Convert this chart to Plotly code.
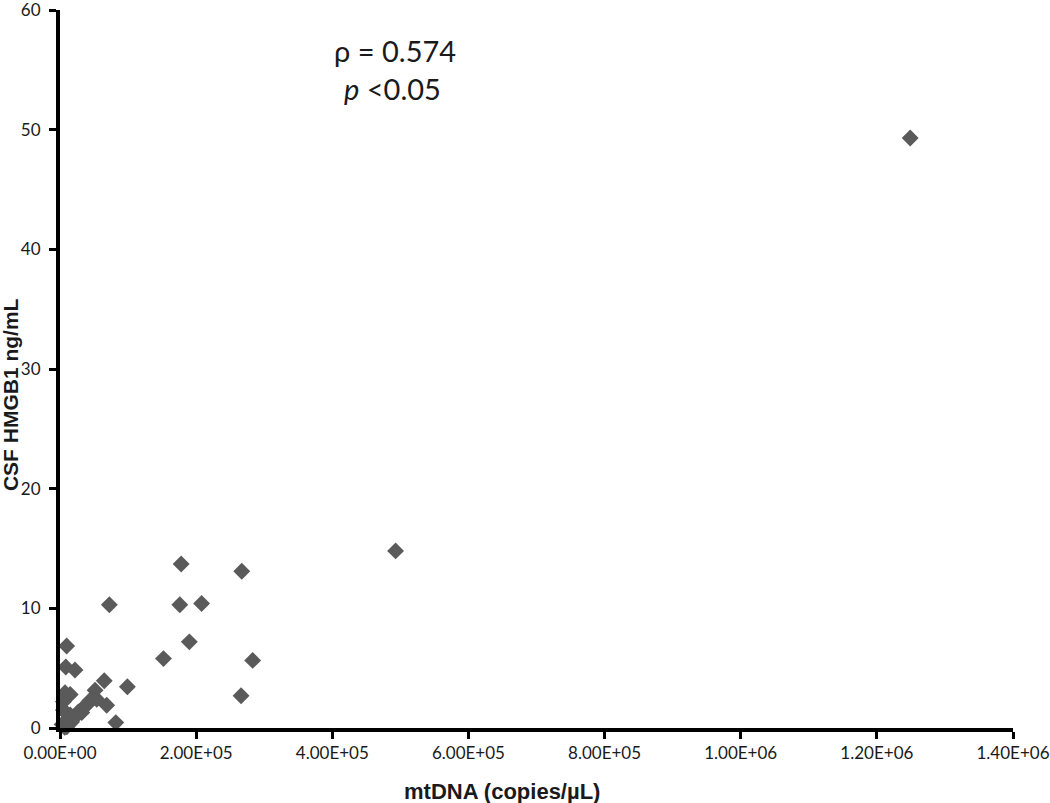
import plotly.graph_objects as go

# mtDNA copies/uL vs CSF HMGB1 ng/mL
mtdna = [1249000, 493000, 178000, 267000, 176000, 208000, 72500, 190000, 152000,
         283000, 266000, 9800, 8500, 22000, 65000, 99000, 7400, 15000, 51500,
         68600, 82000, 44000, 48500, 54000, 39000, 34000, 27000, 32000, 24500,
         19500, 15000, 12000, 17000, 7000, 7000, 10000, 5000, 5000, 7000, 3000]
hmgb1 = [49.3, 14.8, 13.7, 13.1, 10.3, 10.4, 10.3, 7.2, 5.8,
         5.65, 2.7, 6.85, 5.1, 4.85, 3.95, 3.45, 2.95, 2.8, 3.15,
         1.9, 0.45, 2.3, 2.5, 2.4, 1.9, 1.7, 1.35, 1.3, 1.05,
         0.9, 1.1, 0.5, 0.5, 0.5, 0.05, 0.1, 2.2, 1.5, 1.35, 0.3]

x_ticks = [0, 200000, 400000, 600000, 800000, 1000000, 1200000, 1400000]
x_labels = ["0.00E+00", "2.00E+05", "4.00E+05", "6.00E+05",
            "8.00E+05", "1.00E+06", "1.20E+06", "1.40E+06"]
y_ticks = [0, 10, 20, 30, 40, 50, 60]

fig = go.Figure()
fig.add_trace(go.Scatter(x=mtdna, y=hmgb1, mode="markers", cliponaxis=False,
                         marker=dict(symbol="diamond", size=13, color="#5a5a5a")))

tick_font = dict(family="Lato, Open Sans, sans-serif", size=17, color="#1a1a1a")
axis_style = dict(showgrid=False, zeroline=False, showline=True, linecolor="black",
                  linewidth=4, ticks="outside", ticklen=7, tickwidth=3, tickcolor="black",
                  tickfont=tick_font, automargin=False, ticklabeloverflow="allow")
fig.update_xaxes(range=[0, 1400000], tickvals=x_ticks, ticktext=x_labels, **axis_style)
fig.update_yaxes(range=[0, 60], tickvals=y_ticks, ticklabelstandoff=5, **axis_style)

fig.add_annotation(x=0.464, y=-0.088, xref="paper", yref="paper", showarrow=False,
                   xanchor="center", yanchor="middle", text="<b>mtDNA (copies/µL)</b>",
                   font=dict(family="Liberation Sans, Arial", size=22, color="#1a1a1a"))
fig.add_annotation(x=-0.0525, y=0.465, xref="paper", yref="paper", showarrow=False,
                   xanchor="center", yanchor="middle", text="<b>CSF HMGB1 ng/mL</b>",
                   textangle=-90,
                   font=dict(family="Liberation Sans, Arial", size=21, color="#1a1a1a"))

stat_font = dict(family="Lato, sans-serif", size=29, color="#1a1a1a")
fig.add_annotation(x=0.3515, y=0.944, xref="paper", yref="paper", showarrow=False,
                   xanchor="center", yanchor="middle", text="ρ = 0.574", font=stat_font)
fig.add_annotation(x=0.349, y=0.89, xref="paper", yref="paper", showarrow=False,
                   xanchor="center", yanchor="middle", text="<i>p</i> <0.05", font=stat_font)

fig.update_layout(width=1050, height=803, showlegend=False,
                  margin=dict(l=60, r=37, t=10, b=75),
                  paper_bgcolor="white", plot_bgcolor="white")

# drop the browser's default body margin so the figure sits at the page corner
fig.write_html("out.html", config={"displayModeBar": False},
               post_script="document.body.style.margin='0';")
